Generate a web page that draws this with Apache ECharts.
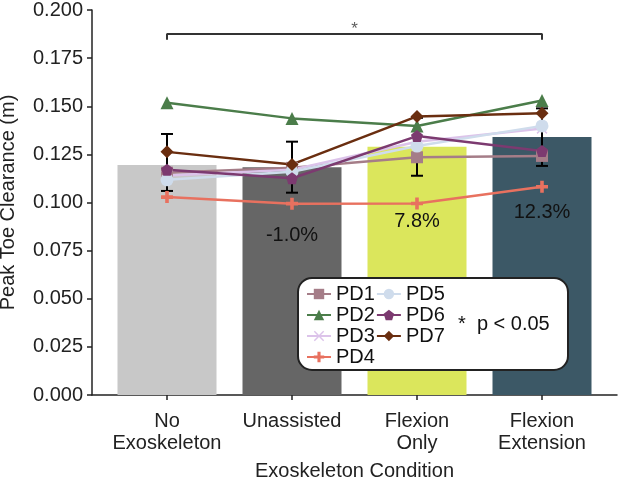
<!DOCTYPE html>
<html>
<head>
<meta charset="utf-8">
<script src="https://cdn.jsdelivr.net/npm/echarts@6/dist/echarts.min.js"></script>
<style>
html,body{margin:0;padding:0;background:#fff;}
#main{width:618px;height:479px;}
</style>
</head>
<body>
<div id="main"></div>
<script>
// conditions on the x axis
var categories = ['No\nExoskeleton', 'Unassisted', 'Flexion\nOnly', 'Flexion\nExtension'];
// group mean (bars)
var barValues = [0.1195, 0.1183, 0.1289, 0.1340];
var barColors = ['#c8c8c8', '#666666', '#dbe65c', '#3c5866'];
var pctLabels = ['', '-1.0%', '7.8%', '12.3%'];
// error bars (low / high)
var errLow = [0.1060, 0.1051, 0.1139, 0.1190];
var errHigh = [0.1356, 0.1316, 0.1440, 0.1489];
// participants
var PD1 = [0.1155, 0.1180, 0.1235, 0.1242];
var PD2 = [0.1518, 0.1437, 0.1397, 0.1530];
var PD3 = [0.1140, 0.1170, 0.1316, 0.1385];
var PD4 = [0.1028, 0.0994, 0.0995, 0.1082];
var PD5 = [0.1118, 0.1160, 0.1293, 0.1398];
var PD6 = [0.1170, 0.1126, 0.1345, 0.1268];
var PD7 = [0.1263, 0.1198, 0.1447, 0.1463];

var font = 'Liberation Sans, Arial, sans-serif';
var myChart = echarts.init(document.getElementById('main'));

var pdSeries = [
	{name: 'PD1', data: PD1, color: '#a57d88', symbol: 'rect', size: 12},
	{name: 'PD2', data: PD2, color: '#4b7d4a', symbol: 'triangle', size: 13},
	{name: 'PD3', data: PD3, color: '#dcc3ea', symbol: 'path://M1,0L5,4L9,0L10,1L6,5L10,9L9,10L5,6L1,10L0,9L4,5L0,1Z', size: 11},
	{name: 'PD4', data: PD4, color: '#e8715f', symbol: 'path://M3.5,0H6.5V3.5H10V6.5H6.5V10H3.5V6.5H0V3.5H3.5Z', size: 12},
	{name: 'PD5', data: PD5, color: '#cfdcec', symbol: 'circle', size: 13},
	{name: 'PD6', data: PD6, color: '#7c3a70', symbol: 'path://M5,0L10,3.8L8.1,10L1.9,10L0,3.8Z', size: 12},
	{name: 'PD7', data: PD7, color: '#6a2e10', symbol: 'diamond', size: 13}
];

var series = [];
// bars
series.push({
	type: 'bar',
	barWidth: 99,
	z: 1,
	data: barValues.map(function(v, i) {
		return {
			value: [i, v],
			itemStyle: {color: barColors[i]},
			label: {show: pctLabels[i] != '', position: 'insideTop', distance: i == 1 ? 58 : 65,
				formatter: pctLabels[i], fontSize: 20, color: '#111', fontFamily: font}
		};
	})
});
// error bars
series.push({
	type: 'custom',
	z: 2,
	data: errLow.map(function(v, i) { return [i, v, errHigh[i]]; }),
	renderItem: function(params, api) {
		var lo = api.coord([api.value(0), api.value(1)]);
		var hi = api.coord([api.value(0), api.value(2)]);
		var w = 6;
		var st = {stroke: '#000', lineWidth: 2};
		return {type: 'group', children: [
			{type: 'line', shape: {x1: lo[0], y1: lo[1], x2: hi[0], y2: hi[1]}, style: st},
			{type: 'line', shape: {x1: lo[0] - w, y1: lo[1], x2: lo[0] + w, y2: lo[1]}, style: st},
			{type: 'line', shape: {x1: hi[0] - w, y1: hi[1], x2: hi[0] + w, y2: hi[1]}, style: st}
		]};
	}
});
// participant lines
pdSeries.forEach(function(p) {
	series.push({
		name: p.name,
		type: 'line',
		z: 3,
		symbol: p.symbol,
		symbolSize: p.size,
		showAllSymbol: true,
		color: p.color,
		lineStyle: {width: 2.5, color: p.color},
		itemStyle: {color: p.color},
		data: p.data.map(function(v, i) { return [i, v]; })
	});
});
// significance bracket
series.push({
	type: 'line',
	z: 3,
	symbol: 'none',
	lineStyle: {color: '#333', width: 2},
	data: [[0, 0.1845], [0, 0.1875], [3, 0.1875], [3, 0.1845]]
});
series.push({
	type: 'scatter',
	z: 3,
	symbolSize: 0,
	data: [[1.5, 0.1875]],
	label: {show: true, formatter: '*', position: 'top', distance: -4, fontSize: 17, color: '#333', fontFamily: font}
});

var option = {
	animation: false,
	backgroundColor: '#fff',
	grid: {left: 92, right: 1, top: 10, bottom: 84, outerBoundsMode: 'none', containLabel: false},
	xAxis: {
		type: 'value',
		min: -0.6,
		max: 3.6,
		name: 'Exoskeleton Condition',
		nameLocation: 'middle',
		nameGap: 66,
		nameTextStyle: {fontSize: 20, color: '#222', fontFamily: font},
		axisLine: {onZero: false, lineStyle: {color: '#222', width: 1.5}},
		axisTick: {show: true, length: 5, customValues: [0, 1, 2, 3], lineStyle: {color: '#222', width: 1.5}},
		axisLabel: {customValues: [0, 1, 2, 3], fontSize: 20, lineHeight: 22, margin: 15, color: '#222', fontFamily: font,
			formatter: function(v) { return categories[Math.round(v)]; }},
		splitLine: {show: false}
	},
	yAxis: {
		type: 'value',
		min: 0,
		max: 0.2,
		interval: 0.025,
		name: 'Peak Toe Clearance (m)',
		nameLocation: 'middle',
		nameGap: 74,
		nameTextStyle: {fontSize: 20, color: '#222', fontFamily: font},
		axisLine: {show: true, onZero: false, lineStyle: {color: '#222', width: 1.5}},
		axisTick: {show: true, length: 5, lineStyle: {color: '#222', width: 1.5}},
		axisLabel: {fontSize: 20, margin: 9, color: '#222', fontFamily: font,
			formatter: function(v) { return v.toFixed(3); }},
		splitLine: {show: false}
	},
	legend: {
		data: ['PD1', 'PD2', 'PD3', 'PD4', 'PD5', 'PD6', 'PD7'],
		orient: 'vertical',
		left: 306,
		top: 284,
		height: 86,
		padding: 0,
		itemGap: 1,
		itemWidth: 24,
		itemHeight: 13,
		z: 20,
		textStyle: {fontSize: 20, color: '#111', fontFamily: font, width: 48}
	},
	graphic: [
		{type: 'rect', z: 10, shape: {x: 298, y: 278, width: 270, height: 92, r: 14},
			style: {fill: '#fff', stroke: '#222', lineWidth: 2}},
		{type: 'text', z: 20, x: 458, y: 324,
			style: {text: '*  p < 0.05', fontSize: 20, fill: '#111', fontFamily: font, verticalAlign: 'middle'}}
	],
	series: series
};
myChart.setOption(option);
</script>
</body>
</html>
